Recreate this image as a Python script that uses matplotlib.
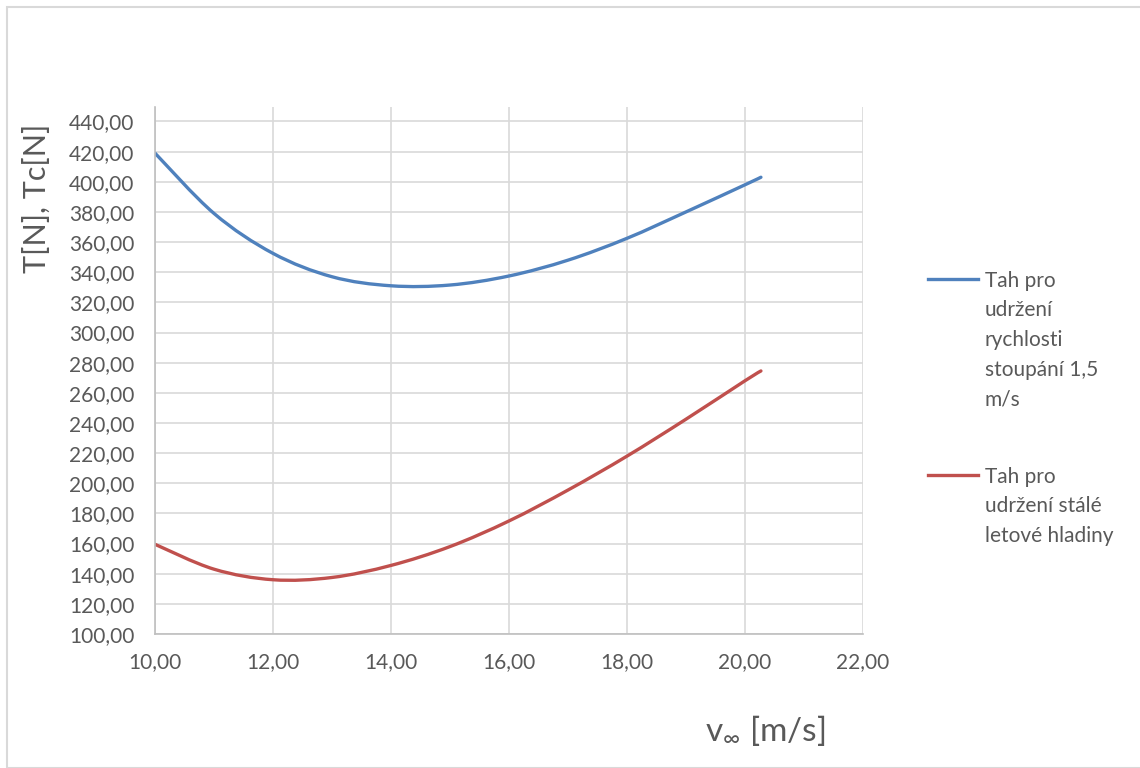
import matplotlib
matplotlib.use("Agg")
import matplotlib.pyplot as plt
from matplotlib.lines import Line2D
from matplotlib.patches import Rectangle, PathPatch
from matplotlib.path import Path
from matplotlib.ticker import FuncFormatter

plt.rcParams['font.family'] = ['Lato', 'DejaVu Sans']
plt.rcParams['mathtext.fontset'] = 'custom'
plt.rcParams['mathtext.rm'] = 'Lato'
plt.rcParams['mathtext.it'] = 'Lato'

# rychlost letu [m/s]
v = [10, 11, 12, 13, 14, 15, 16, 17, 18, 19, 20, 20.27]
# tah pro stoupani 1,5 m/s [N]
T_climb = [419, 379, 352.5, 337, 331, 331.5, 337.5, 348, 362.5, 380, 398, 403]
# tah pro vodorovny let [N]
T_level = [159.5, 143, 136, 137.5, 145.5, 158, 175, 195.5, 218, 242.5, 268, 274.5]

labels = [["Tah pro", "udržení", "rychlosti", "stoupání 1,5", "m/s"],
          ["Tah pro", "udržení stálé", "letové hladiny"]]
colors = ["#4f81bd", "#c0504d"]


def smooth_path(xs, ys):
    # vyhlazena cara jako v Excelu (Catmull-Rom -> Bezier)
    pts = list(zip(xs, ys))
    n = len(pts)
    verts = [pts[0]]
    codes = [Path.MOVETO]
    for i in range(n - 1):
        p0 = pts[max(i - 1, 0)]
        p1 = pts[i]
        p2 = pts[i + 1]
        p3 = pts[min(i + 2, n - 1)]
        c1 = (p1[0] + (p2[0] - p0[0]) / 6, p1[1] + (p2[1] - p0[1]) / 6)
        c2 = (p2[0] - (p3[0] - p1[0]) / 6, p2[1] - (p3[1] - p1[1]) / 6)
        verts += [c1, c2, p2]
        codes += [Path.CURVE4] * 3
    return Path(verts, codes)


W, H = 1140, 768
fig = plt.figure(figsize=(W / 100, H / 100), dpi=100)
fig.patch.set_facecolor("white")
fig.add_artist(Rectangle((7 / W, 0), 1, 1 - 7 / H, transform=fig.transFigure,
                         fill=False, edgecolor="#d9d9d9", linewidth=1.5))

ax = fig.add_axes([155 / W, 1 - 634 / H, (863 - 155) / W, (634 - 107) / H])
for ys, c in zip([T_climb, T_level], colors):
    ax.add_patch(PathPatch(smooth_path(v, ys), facecolor="none", edgecolor=c,
                           lw=2.4, capstyle="round"))

ax.set_xlim(10, 22)
ax.set_ylim(100, 449.6)
ax.set_xticks(range(10, 23, 2))
ax.set_yticks(range(100, 441, 20))
fmt = FuncFormatter(lambda x, p: f"{x:.2f}".replace(".", ","))
ax.xaxis.set_major_formatter(fmt)
ax.yaxis.set_major_formatter(fmt)
ax.grid(True, color="#d9d9d9", linewidth=1.2)
ax.set_axisbelow(True)
for s in ["top", "right"]:
    ax.spines[s].set_visible(False)
for s in ["left", "bottom"]:
    ax.spines[s].set_color("#bfbfbf")
    ax.spines[s].set_linewidth(1.2)
ax.tick_params(axis="both", length=0, labelsize=15, labelcolor="#595959")
ax.tick_params(axis="x", pad=13)
ax.tick_params(axis="y", pad=15)

fig.text(37 / W, 1 - 198 / H, "T[N], Tc[N]", rotation=90, ha="center", va="center",
         fontsize=22, color="#595959")
fig.text(765 / W, 1 - 731 / H, r"v$_{\infty}$ [m/s]", ha="center", va="center",
         fontsize=24, color="#595959")

# legenda
for y0, lines, c in zip([279, 475], labels, colors):
    fig.add_artist(Line2D([928 / W, 978 / W], [1 - y0 / H] * 2, transform=fig.transFigure,
                          color=c, lw=2.4))
    for k, t in enumerate(lines):
        fig.text(985 / W, 1 - (y0 + 29.5 * k) / H, t, ha="left", va="center_baseline",
                 fontsize=15, color="#595959")

fig.savefig("out.png", dpi=100)
